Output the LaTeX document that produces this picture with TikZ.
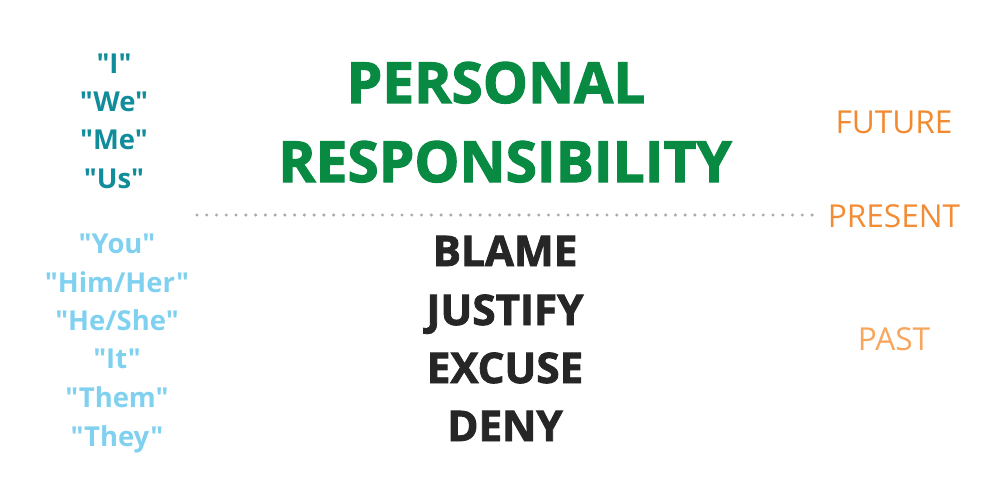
\documentclass[tikz,border=0pt]{standalone}
\usepackage{fontspec}
\setmainfont{Open Sans}[Ligatures=TeXOff]
\newfontfamily\heavy[UprightFont={* Bold},FakeBold=2,Ligatures=TeXOff]{Open Sans}
\usepackage{xcolor}
\usetikzlibrary{math}
\definecolor{mygreen}{RGB}{8, 138, 67}
\definecolor{myteal}{RGB}{16, 140, 154}
\definecolor{mysky}{RGB}{128, 208, 240}
\definecolor{mydark}{RGB}{38, 38, 38}
\definecolor{myorange}{RGB}{242, 138, 48}
\definecolor{mypeach}{RGB}{247, 166, 94}
\definecolor{mydots}{RGB}{170, 170, 170}

\tikzset{
  title/.style={font=\heavy\fontsize{32.3}{32.3}\selectfont, text=mygreen, inner sep=0pt, anchor=base},
  excuse/.style={font=\heavy\fontsize{24}{24}\selectfont, text=mydark, inner sep=0pt, anchor=base},
  owner/.style={font=\bfseries\fontsize{15.6}{15.6}\selectfont, text=myteal, inner sep=0pt, anchor=base},
  victim/.style={font=\bfseries\fontsize{15.6}{15.6}\selectfont, text=mysky, inner sep=0pt, anchor=base},
  tense/.style={font=\fontsize{18}{18}\selectfont, inner sep=0pt, anchor=base},
}

\begin{document}
\begin{tikzpicture}[x=0.02cm, y=-0.02cm]
\tikzmath{
\xl=114;
\xc=505;
\xr=894;
}

\useasboundingbox (0,0) rectangle (1000,500);

\coordinate (L) at (197,215);
\coordinate (R) at (813,215);
\draw[mydots, line width=3.4pt*0.567, line cap=round, dash pattern=on 0pt off 9.8*0.567pt] (L) -- (R);

\node[title] (personal) at (496,103) {PERSONAL};
\node[title] (respons) at (\xc,182) {RESPONSIBILITY};

\node[excuse] (blame) at (\xc,266) {BLAME};
\node[excuse] (justify) at (\xc,325) {JUSTIFY};
\node[excuse] (excuse) at (\xc,383) {EXCUSE};
\node[excuse] (deny) at (\xc,441) {DENY};

\node[owner] (i) at (\xl,73) {"I"};
\node[owner] (we) at (\xl,112) {"We"};
\node[owner] (me) at (\xl,150) {"Me"};
\node[owner] (us) at (\xl,188) {"Us"};

\node[victim] (you) at (117,253) {"You"};
\node[victim] (him) at (117,292) {"Him/Her"};
\node[victim] (he) at (117,330) {"He/She"};
\node[victim] (it) at (117,368) {"It"};
\node[victim] (them) at (117,407) {"Them"};
\node[victim] (they) at (117,446) {"They"};

\node[tense, text=myorange] (future) at (\xr,133) {FUTURE};
\node[tense, text=myorange!90!mypeach] (present) at (\xr,227) {PRESENT};
\node[tense, text=mypeach] (past) at (\xr,350) {PAST};

\end{tikzpicture}
\end{document}
